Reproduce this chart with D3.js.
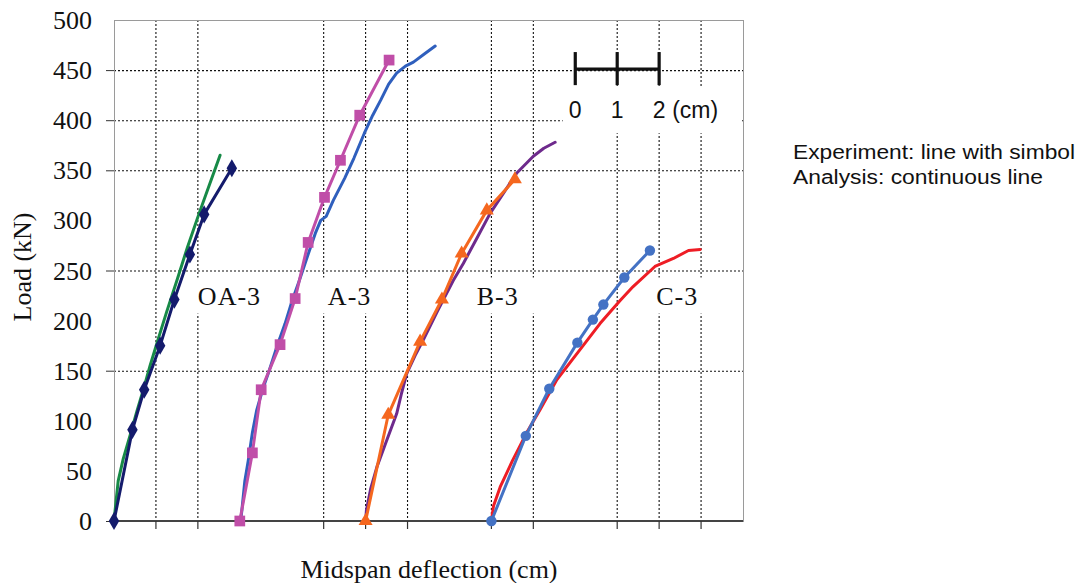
<!DOCTYPE html>
<html>
<head>
<meta charset="utf-8">
<script src="https://cdn.jsdelivr.net/npm/d3@7"></script>
<style>
  html, body { margin: 0; padding: 0; background: #fff; }
  svg { display: block; }
</style>
</head>
<body>
<div id="chart"></div>
<script>
// ---------------- data ----------------
const categories = ["OA-3", "A-3", "B-3", "C-3"];
const labelX = [2.0, 5.1, 8.65, 12.93];          // x (cm) where each specimen label starts
const labelLoad = 215;                              // load level of label baseline

// Experiment (line with symbol): [deflection cm, load kN]
const expOA3 = [[0,0],[0.44,91],[0.72,131],[1.10,175],[1.44,221],[1.81,266],[2.15,306],[2.81,352]];
const expA3  = [[3.0,0],[3.3,68],[3.51,131],[3.96,176],[4.32,222],[4.63,278],[5.02,323],[5.40,360],[5.86,405],[6.56,460]];
const expB3  = [[6.0,0],[6.54,106],[7.30,179],[7.82,221],[8.29,267],[8.89,310],[9.56,341]];
const expC3  = [[9.0,0],[9.82,85],[10.38,132],[11.05,178],[11.42,201],[11.67,216],[12.17,243],[12.78,270]];

// Analysis (continuous line)
const anaOA3 = [[0,0],[0.1,40],[0.22,62],[0.38,85],[0.55,110],[0.70,131],[0.86,155],[1.02,177],[1.25,208],[1.5,240],[1.75,273],[2.03,307],[2.28,336],[2.53,365]];
const anaA3  = [[3.02,0],[3.05,11],[3.12,40],[3.2,60],[3.3,88],[3.4,110],[3.55,132],[3.7,150],[3.9,176],[4.08,197],[4.25,220],[4.42,240],[4.62,265],[4.8,287],[4.93,300],[5.06,304],[5.23,320],[5.5,342],[5.72,362],[5.97,387],[6.17,405],[6.36,420],[6.55,436],[6.74,447],[6.95,454],[7.14,458],[7.4,466],[7.66,474]];
const anaB3  = [[6.0,0],[6.02,11],[6.12,32],[6.27,54],[6.5,80],[6.74,107],[6.86,128],[6.98,147],[7.18,165],[7.38,181],[7.72,210],[8.09,240],[8.33,257],[8.65,282],[8.97,307],[9.3,328],[9.60,347],[10.0,364],[10.25,372],[10.52,378]];
const anaC3  = [[9.0,0],[9.05,15],[9.21,34],[9.5,60],[9.84,88],[10.16,111],[10.56,141],[11.04,167],[11.59,197],[12.07,220],[12.38,234],[12.9,254],[13.34,262],[13.7,270],[13.98,271]];

// axes / grid
const yTickValues = [0,50,100,150,200,250,300,350,400,450,500];
const yGridValues = [150,250,350,400,450];
const yTickMarks  = [0,150,250,350,400,450];
const xGridValues = [1,2,5,6,7,9,10,12,13,14];

// scale bar (cm) and note
const scaleBarValues = [11, 12, 13];
const scaleBarLabels = ["0", "1", "2"];
const noteLines = ["Experiment: line with simbol", "Analysis: continuous line"];

// ---------------- drawing ----------------
const W = 1080, H = 583;
const svg = d3.select("#chart").append("svg").attr("width", W).attr("height", H);

const x = d3.scaleLinear().domain([0, 15]).range([114, 743]);
const y = d3.scaleLinear().domain([0, 500]).range([521, 20]);

const serif = "'Liberation Serif', 'Times New Roman', serif";
const sans  = "'Liberation Sans', Arial, sans-serif";

// gridlines (dotted)
const grid = svg.append("g");
grid.selectAll("line.gx").data(xGridValues).join("line")
  .attr("x1", d => x(d)).attr("x2", d => x(d))
  .attr("y1", y(500)).attr("y2", y(0))
  .attr("stroke", "#111").attr("stroke-width", 1.1).attr("stroke-dasharray", "2,2");
grid.selectAll("line.gy").data(yGridValues).join("line")
  .attr("x1", x(0)).attr("x2", x(15))
  .attr("y1", d => y(d) + 0.5).attr("y2", d => y(d) + 0.5)
  .attr("stroke", "#111").attr("stroke-width", 1.1).attr("stroke-dasharray", "2,2");

// white boxes behind specimen labels (they hide grid segments)
const labelBoxes = [[1.82, 3.6], [4.85, 6.15], [8.55, 10.15], [12.78, 14.25]];
svg.append("g").selectAll("rect").data(labelBoxes).join("rect")
  .attr("x", d => x(d[0])).attr("width", d => x(d[1]) - x(d[0]))
  .attr("y", y(243)).attr("height", y(207) - y(243))
  .attr("fill", "#fff");

// white box behind scale bar labels
svg.append("rect")
  .attr("x", x(10.7)).attr("width", x(14.95) - x(10.7))
  .attr("y", y(433)).attr("height", y(387) - y(433))
  .attr("fill", "#fff");

// plot frame
svg.append("rect")
  .attr("x", x(0) + 0.5).attr("y", y(500) + 0.5)
  .attr("width", x(15) - x(0)).attr("height", y(0) - y(500))
  .attr("fill", "none").attr("stroke", "#9a9a9a").attr("stroke-width", 1);

// y axis (labels + tick marks)
const yAxis = svg.append("g");
yAxis.selectAll("line").data(yTickMarks).join("line")
  .attr("x1", x(0) - 8).attr("x2", x(0))
  .attr("y1", d => y(d) + 0.5).attr("y2", d => y(d) + 0.5)
  .attr("stroke", "#333").attr("stroke-width", 1);
yAxis.selectAll("text").data(yTickValues).join("text")
  .attr("x", 92).attr("y", d => y(d) + 9)
  .attr("text-anchor", "end")
  .attr("font-family", serif).attr("font-size", 26).attr("fill", "#111")
  .text(d => d);

// x axis line (bottom) and ticks
svg.append("line")
  .attr("x1", x(0)).attr("x2", x(15))
  .attr("y1", y(0)).attr("y2", y(0))
  .attr("stroke", "#444").attr("stroke-width", 2);
svg.append("g").selectAll("line").data(xGridValues).join("line")
  .attr("x1", d => x(d)).attr("x2", d => x(d))
  .attr("y1", y(0)).attr("y2", y(0) + 8)
  .attr("stroke", "#333").attr("stroke-width", 1.2);

// axis titles
svg.append("text")
  .attr("x", 429).attr("y", 578)
  .attr("text-anchor", "middle")
  .attr("font-family", serif).attr("font-size", 26).attr("fill", "#111")
  .text("Midspan deflection (cm)");
svg.append("text")
  .attr("transform", "translate(31,267) rotate(-90)")
  .attr("text-anchor", "middle")
  .attr("font-family", serif).attr("font-size", 26).attr("fill", "#111")
  .text("Load (kN)");

// specimen labels
svg.append("g").selectAll("text").data(categories).join("text")
  .attr("x", (d, i) => x(labelX[i])).attr("y", y(labelLoad) - 1)
  .attr("font-family", serif).attr("font-size", 26).attr("fill", "#111")
  .attr("letter-spacing", 1)
  .text(d => d);

// curves
const line = d3.line().x(d => x(d[0])).y(d => y(d[1]));

const analysis = [
  { data: anaOA3, color: "#178a47" },
  { data: anaA3,  color: "#2f5fbd" },
  { data: anaB3,  color: "#6e2a8c" },
  { data: anaC3,  color: "#ee1d25" }
];
const experiment = [
  { data: expOA3, color: "#141b6c", symbol: d3.symbolDiamond, size: 95 },
  { data: expA3,  color: "#c04ea8", symbol: d3.symbolSquare,  size: 115 },
  { data: expB3,  color: "#f5671f", symbol: d3.symbolTriangle, size: 85 },
  { data: expC3,  color: "#4472c4", symbol: d3.symbolCircle,  size: 85 }
];

const curves = svg.append("g");
experiment.forEach((e, i) => {
  const a = analysis[i];
  curves.append("path").datum(a.data)
    .attr("d", line).attr("fill", "none")
    .attr("stroke", a.color).attr("stroke-width", 3)
    .attr("stroke-linejoin", "round").attr("stroke-linecap", "round");
  curves.append("path").datum(e.data)
    .attr("d", line).attr("fill", "none")
    .attr("stroke", e.color).attr("stroke-width", 3)
    .attr("stroke-linejoin", "round");
  curves.append("g").selectAll("path").data(e.data).join("path")
    .attr("transform", d => `translate(${x(d[0])},${y(d[1])})`)
    .attr("d", d3.symbol().type(e.symbol).size(e.size))
    .attr("fill", e.color);
});

// scale bar
const sb = svg.append("g");
sb.append("line")
  .attr("x1", x(scaleBarValues[0])).attr("x2", x(scaleBarValues[2]))
  .attr("y1", y(451)).attr("y2", y(451))
  .attr("stroke", "#111").attr("stroke-width", 3.2);
sb.selectAll("line.t").data(scaleBarValues).join("line")
  .attr("x1", d => x(d)).attr("x2", d => x(d))
  .attr("y1", y(468)).attr("y2", y(435))
  .attr("stroke", "#111").attr("stroke-width", 3.2);
sb.selectAll("text").data(scaleBarLabels).join("text")
  .attr("x", (d, i) => x(scaleBarValues[i])).attr("y", 118)
  .attr("text-anchor", "middle")
  .attr("font-family", sans).attr("font-size", 23).attr("fill", "#111")
  .text(d => d);
sb.append("text")
  .attr("x", x(scaleBarValues[2]) + 13).attr("y", 118)
  .attr("font-family", sans).attr("font-size", 23).attr("fill", "#111")
  .text("(cm)");

// note at right
svg.append("g").selectAll("text").data(noteLines).join("text")
  .attr("x", 793).attr("y", (d, i) => 159 + i * 25)
  .attr("font-family", sans).attr("font-size", 20).attr("fill", "#111")
  .attr("textLength", (d, i) => i === 0 ? 282 : 250)
  .attr("lengthAdjust", "spacingAndGlyphs")
  .text(d => d);
</script>
</body>
</html>
